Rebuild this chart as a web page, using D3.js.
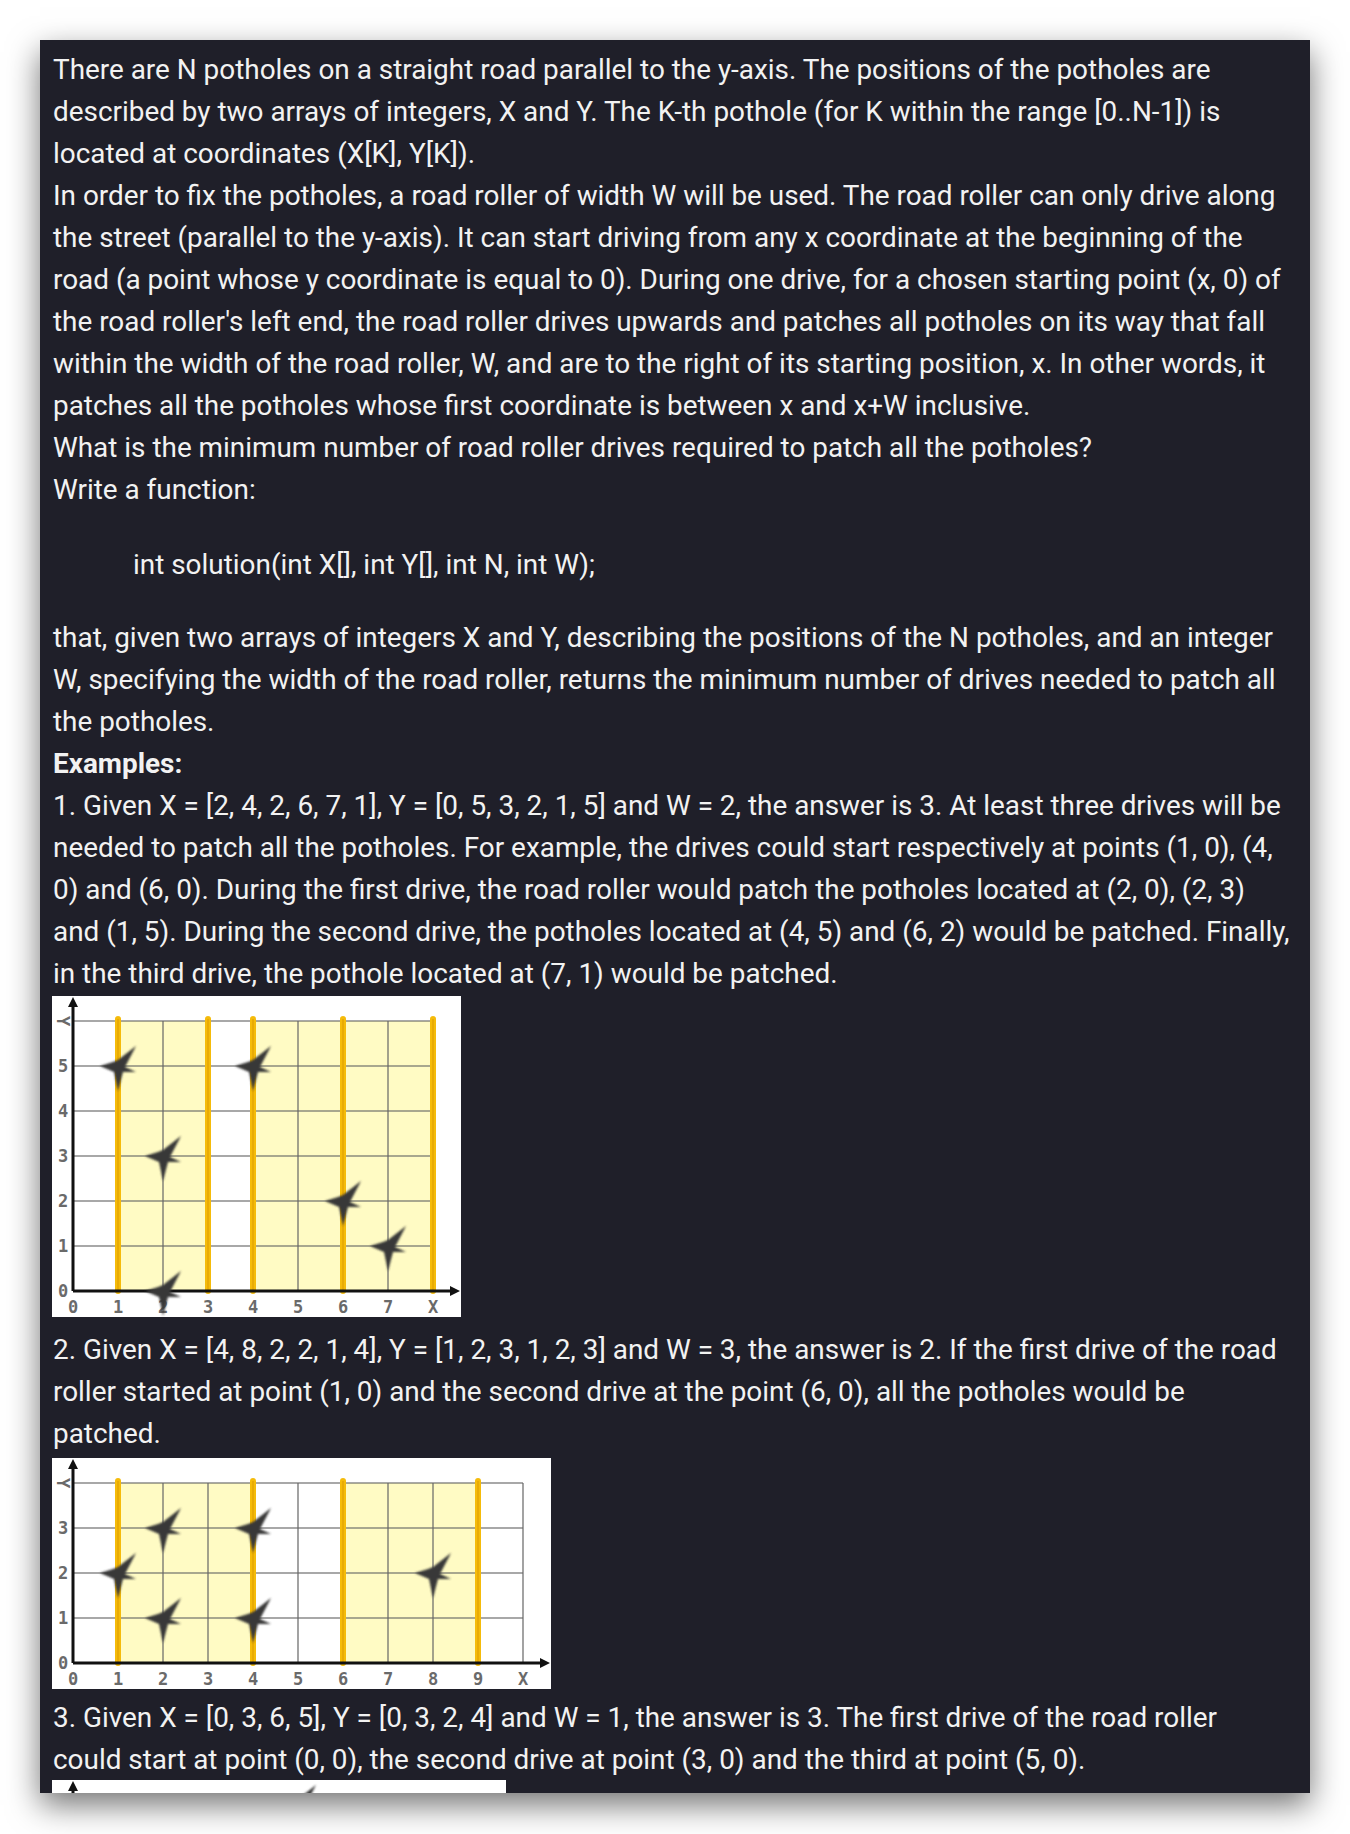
<!DOCTYPE html>
<html>
<head>
<meta charset="utf-8">
<script src="https://cdn.jsdelivr.net/npm/d3@7"></script>
<style>
  body { margin: 0; background: #fff; width: 1350px; height: 1834px; overflow: hidden; }
  #panel { position: absolute; left: 40px; top: 40px; width: 1270px; height: 1753px; background: #1f1f29;
           box-shadow: 0 12px 30px rgba(0,0,0,0.55); overflow: hidden; font-family: Roboto, sans-serif; }
  .ln { position: absolute; white-space: nowrap; color: #f2f2f2; font-size: 27.9px; line-height: 42px; }
</style>
</head>
<body>
<div id="panel"></div>
<script>
// text lines: [centre y on page, x, text, bold]
const lines = [
  [70, 53, "There are N potholes on a straight road parallel to the y-axis. The positions of the potholes are"],
  [112, 53, "described by two arrays of integers, X and Y. The K-th pothole (for K within the range [0..N-1]) is"],
  [154, 53, "located at coordinates (X[K], Y[K])."],
  [196, 53, "In order to fix the potholes, a road roller of width W will be used. The road roller can only drive along"],
  [238, 53, "the street (parallel to the y-axis). It can start driving from any x coordinate at the beginning of the"],
  [280, 53, "road (a point whose y coordinate is equal to 0). During one drive, for a chosen starting point (x, 0) of"],
  [322, 53, "the road roller's left end, the road roller drives upwards and patches all potholes on its way that fall"],
  [364, 53, "within the width of the road roller, W, and are to the right of its starting position, x. In other words, it"],
  [406, 53, "patches all the potholes whose first coordinate is between x and x+W inclusive."],
  [448, 53, "What is the minimum number of road roller drives required to patch all the potholes?"],
  [490, 53, "Write a function:"],
  [565, 133, "int solution(int X[], int Y[], int N, int W);"],
  [638, 53, "that, given two arrays of integers X and Y, describing the positions of the N potholes, and an integer"],
  [680, 53, "W, specifying the width of the road roller, returns the minimum number of drives needed to patch all"],
  [722, 53, "the potholes."],
  [764, 53, "Examples:", true],
  [806, 53, "1. Given X = [2, 4, 2, 6, 7, 1], Y = [0, 5, 3, 2, 1, 5] and W = 2, the answer is 3. At least three drives will be"],
  [848, 53, "needed to patch all the potholes. For example, the drives could start respectively at points (1, 0), (4,"],
  [890, 53, "0) and (6, 0). During the first drive, the road roller would patch the potholes located at (2, 0), (2, 3)"],
  [932, 53, "and (1, 5). During the second drive, the potholes located at (4, 5) and (6, 2) would be patched. Finally,"],
  [974, 53, "in the third drive, the pothole located at (7, 1) would be patched."],
  [1350, 53, "2. Given X = [4, 8, 2, 2, 1, 4], Y = [1, 2, 3, 1, 2, 3] and W = 3, the answer is 2. If the first drive of the road"],
  [1392, 53, "roller started at point (1, 0) and the second drive at the point (6, 0), all the potholes would be"],
  [1434, 53, "patched."],
  [1718, 53, "3. Given X = [0, 3, 6, 5], Y = [0, 3, 2, 4] and W = 1, the answer is 3. The first drive of the road roller"],
  [1760, 53, "could start at point (0, 0), the second drive at point (3, 0) and the third at point (5, 0)."]
]

// example data
const ex1X = [2, 4, 2, 6, 7, 1], ex1Y = [0, 5, 3, 2, 1, 5], ex1W = 2, ex1Starts = [1, 4, 6]
const ex2X = [4, 8, 2, 2, 1, 4], ex2Y = [1, 2, 3, 1, 2, 3], ex2W = 3, ex2Starts = [1, 6]
const ex3X = [0, 3, 6, 5], ex3Y = [0, 3, 2, 4], ex3W = 1, ex3Starts = [0, 3, 5]

const panel = d3.select("#panel")

panel.selectAll("div.ln").data(lines).enter()
  .append("div").attr("class", "ln")
  .style("top", d => (d[0] - 21 - 40) + "px")
  .style("left", d => (d[1] - 40) + "px")
  .style("font-weight", d => d[3] ? "700" : "400")
  .text(d => d[2])

const unit = 45, ml = 21, mt = 25

function drawChart(top, X, Y, W, starts, xMax, yMax, labels) {
  const w = ml + xMax*unit + 28, h = mt + yMax*unit + 26
  const svg = panel.append("svg")
    .style("position", "absolute").style("left", "12px").style("top", (top - 40) + "px")
    .attr("width", w).attr("height", h)
  svg.append("rect").attr("width", w).attr("height", h).attr("fill", "#fff")

  const x = d3.scaleLinear().domain([0, xMax]).range([ml, ml + xMax*unit])
  const y = d3.scaleLinear().domain([0, yMax]).range([mt + yMax*unit, mt])

  const defs = svg.append("defs")
  const blurId = "b" + top
  defs.append("filter").attr("id", blurId).append("feGaussianBlur").attr("stdDeviation", 0.8)

  // yellow bands
  svg.selectAll("rect.band").data(starts).enter().append("rect")
    .attr("x", d => x(d)).attr("width", x(W) - x(0))
    .attr("y", y(yMax)).attr("height", y(0) - y(yMax))
    .attr("fill", "#fffbc4")

  // grid
  svg.append("g").selectAll("line").data(d3.range(1, xMax + 1)).enter().append("line")
    .attr("x1", d => x(d)).attr("x2", d => x(d)).attr("y1", y(0)).attr("y2", y(yMax))
    .attr("stroke", "#666").attr("stroke-width", 1.6).attr("opacity", 0.75)
  svg.append("g").selectAll("line").data(d3.range(1, yMax + 1)).enter().append("line")
    .attr("x1", x(0)).attr("x2", x(xMax)).attr("y1", d => y(d)).attr("y2", d => y(d))
    .attr("stroke", "#666").attr("stroke-width", 1.6).attr("opacity", 0.75)

  // roller edges
  const edges = Array.from(new Set(starts.flatMap(s => [s, s + W])))
  svg.append("g").selectAll("line").data(edges).enter().append("line")
    .attr("x1", d => x(d)).attr("x2", d => x(d)).attr("y1", y(0)).attr("y2", y(yMax) - 2)
    .attr("stroke", "#f5bb0a").attr("stroke-width", 6).attr("stroke-linecap", "round")
  svg.append("g").selectAll("line").data(edges).enter().append("line")
    .attr("x1", d => x(d)).attr("x2", d => x(d)).attr("y1", y(0)).attr("y2", y(yMax) - 2)
    .attr("stroke", "#d89a00").attr("stroke-width", 1.5).attr("opacity", 0.6)

  // axes
  const ax = svg.append("g").attr("stroke", "#111").attr("stroke-width", 3)
  ax.append("line").attr("x1", x(0)).attr("x2", w - 8).attr("y1", y(0)).attr("y2", y(0))
  ax.append("line").attr("x1", x(0)).attr("x2", x(0)).attr("y1", y(0)).attr("y2", 8)
  svg.append("path").attr("fill", "#111")
    .attr("d", `M${w - 1},${y(0)} l-10,-5 l0,10 z M${x(0)},1 l-5,10 l10,0 z`)

  // tick labels
  if (labels) {
    const lab = svg.append("g").attr("font-family", "DejaVu Sans Mono, monospace").attr("font-size", 17)
      .attr("font-weight", "bold").attr("fill", "#6a6a6a")
    lab.selectAll("text.xt").data(d3.range(0, xMax + 1)).enter().append("text")
      .attr("x", d => x(d)).attr("y", y(0) + 22).attr("text-anchor", "middle")
      .text(d => d === xMax ? "X" : d)
    lab.selectAll("text.yt").data(d3.range(0, yMax)).enter().append("text")
      .attr("x", 11).attr("y", d => y(d) + 6).attr("text-anchor", "middle").text(d => d)
    lab.append("text").attr("transform", `translate(11,${y(yMax)}) rotate(90)`)
      .attr("text-anchor", "middle").attr("y", 6).text("Y")
  }

  // potholes
  const star = "M0,-6 L18,-20 L7,1 L18,6 L5,6 L0,25 L-4,6 L-18,0 L-5,-4 Z"
  svg.append("g").attr("filter", `url(#${blurId})`).selectAll("path").data(X).enter().append("path")
    .attr("d", star)
    .attr("transform", (d, i) => `translate(${x(d)},${y(Y[i])})`)
    .attr("fill", "#383838")
}

drawChart(996, ex1X, ex1Y, ex1W, ex1Starts, 8, 6, true)
drawChart(1458, ex2X, ex2Y, ex2W, ex2Starts, 10, 4, true)
drawChart(1780, ex3X, ex3Y, ex3W, ex3Starts, 9, 4, false)
</script>
</body>
</html>
